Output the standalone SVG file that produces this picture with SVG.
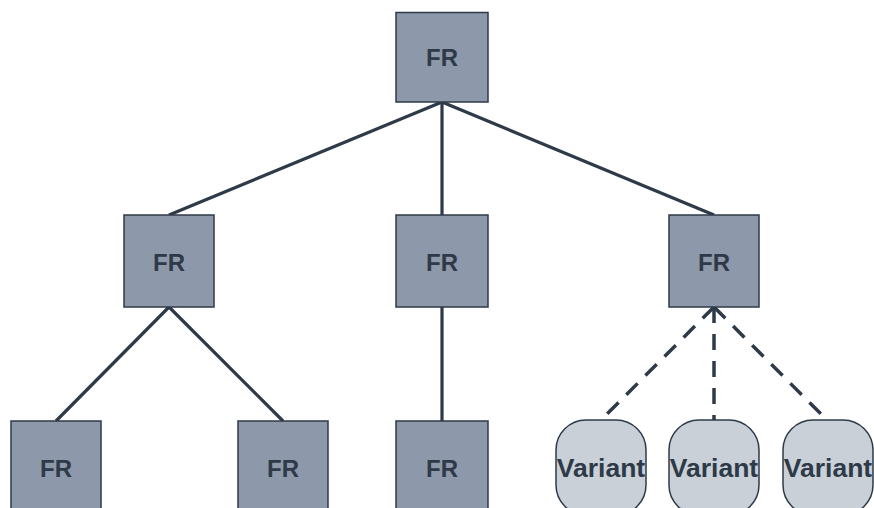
<svg xmlns="http://www.w3.org/2000/svg" width="874" height="508" viewBox="0 0 874 508">
<style>
.fr rect{fill:#8d99aa;stroke:#2e3a48;stroke-width:1.5}
.var rect{fill:#c9d0d8;stroke:#2e3a48;stroke-width:1.5}
text{font-family:"Liberation Sans",Arial,sans-serif;font-weight:bold;fill:#2e3a48;text-anchor:middle}
.fr text{font-size:24px}
.var text{font-size:26.5px}
#edges line{stroke:#2e3a48;stroke-width:3.2}
#edges .d{stroke-width:3.5;stroke-dasharray:16 11}
</style>
<rect width="874" height="508" fill="#ffffff"/>
<g id="edges">
<line x1="442" y1="102" x2="169" y2="215"/>
<line x1="442" y1="102" x2="442" y2="215"/>
<line x1="442" y1="102" x2="714" y2="215"/>
<line x1="169" y1="307" x2="56" y2="421"/>
<line x1="169" y1="307" x2="283" y2="421"/>
<line x1="442" y1="307" x2="442" y2="421"/>
<line class="d" x1="714" y1="307" x2="601" y2="420"/>
<line class="d" x1="714" y1="307" x2="714" y2="420"/>
<line class="d" x1="714" y1="307" x2="827" y2="420"/>
</g>
<g id="n0" class="fr"><rect x="396" y="12.5" width="92" height="89.5"/><text x="442" y="66">FR</text></g>
<g id="n1" class="fr"><rect x="124" y="215" width="90" height="92"/><text x="169" y="271">FR</text></g>
<g id="n2" class="fr"><rect x="396" y="215" width="92" height="92"/><text x="442" y="271">FR</text></g>
<g id="n3" class="fr"><rect x="669" y="215" width="90" height="92"/><text x="714" y="271">FR</text></g>
<g id="n4" class="fr"><rect x="11" y="421" width="90" height="92"/><text x="56" y="477">FR</text></g>
<g id="n5" class="fr"><rect x="238" y="421" width="90" height="92"/><text x="283" y="477">FR</text></g>
<g id="n6" class="fr"><rect x="396" y="421" width="92" height="92"/><text x="442" y="477">FR</text></g>
<g id="v1" class="var"><rect x="556" y="420" width="90" height="95" rx="30"/><text x="601" y="477">Variant</text></g>
<g id="v2" class="var"><rect x="669" y="420" width="90" height="95" rx="30"/><text x="714" y="477">Variant</text></g>
<g id="v3" class="var"><rect x="783" y="420" width="90" height="95" rx="30"/><text x="828" y="477">Variant</text></g>
</svg>
